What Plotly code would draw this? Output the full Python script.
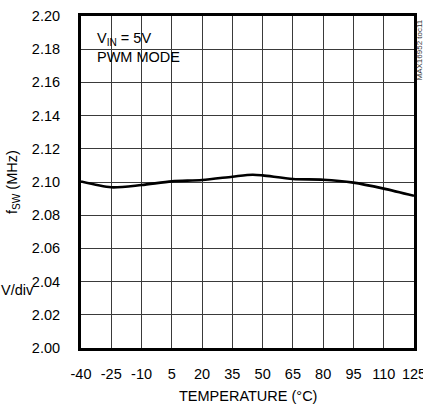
import plotly.graph_objects as go

# Data
temperature_c = [-40, -25, -10, 5, 20, 35, 45, 50, 65, 80, 95, 110, 125]
fsw_mhz = [2.1003, 2.0968, 2.0982, 2.1004, 2.1012, 2.1032, 2.1044, 2.1040, 2.1018, 2.1014, 2.0996, 2.0960, 2.0917]
x_ticks = [-40, -25, -10, 5, 20, 35, 50, 65, 80, 95, 110, 125]
y_ticks = [2.00, 2.02, 2.04, 2.06, 2.08, 2.10, 2.12, 2.14, 2.16, 2.18, 2.20]

W, H = 423, 405
L, R, T, B = 81, 414, 16, 348
FONT = "Liberation Sans Narrow, Arial Narrow, Liberation Sans, Arial, sans-serif"
FS = 14.5


def px(x):
    return (x - L) / (R - L)


def py(y):
    return (B - y) / (B - T)


fig = go.Figure()
fig.add_trace(go.Scatter(x=temperature_c, y=fsw_mhz, mode="lines",
                         line=dict(color="black", width=2.6, shape="spline", smoothing=0.8),
                         hoverinfo="skip", showlegend=False))

axis_common = dict(showgrid=True, gridcolor="#3a3a3a", gridwidth=1, zeroline=False,
                   showline=True, linecolor="black", linewidth=3, mirror=True,
                   ticks="", tickfont=dict(family=FONT, size=FS, color="black"),
                   ticklabeloverflow="allow")

fig.update_xaxes(range=[-40, 125], tickvals=x_ticks, ticktext=[str(v) for v in x_ticks],
                 ticklabelstandoff=11, automargin=False, **axis_common)
fig.update_yaxes(range=[2.00, 2.20], tickvals=y_ticks, ticktext=[f"{v:.2f}" for v in y_ticks],
                 ticklabelstandoff=15, automargin=False, **axis_common)

# white box behind the condition text
fig.add_shape(type="rect", xref="paper", yref="paper", x0=px(90), x1=px(183), y0=py(73), y1=py(23),
              fillcolor="white", line=dict(width=0), layer="between")

fig.add_annotation(xref="paper", yref="paper", x=px(95), y=py(47), xanchor="left", yanchor="middle",
                   text="V<sub>IN</sub> = 5V<br>PWM MODE", showarrow=False, align="left",
                   font=dict(family=FONT, size=FS, color="black"))

fig.add_annotation(xref="paper", yref="paper", x=px(13), y=py(182), xanchor="center", yanchor="middle",
                   text="f<sub>SW</sub> (MHz)", textangle=-90, showarrow=False,
                   font=dict(family=FONT, size=FS, color="black"))

fig.add_annotation(xref="paper", yref="paper", x=px((R + L) / 2), y=py(396), xanchor="center",
                   yanchor="middle", text="TEMPERATURE (°C)", showarrow=False,
                   font=dict(family=FONT, size=FS, color="black"))

fig.add_annotation(xref="paper", yref="paper", x=px(36), y=py(290), xanchor="right", yanchor="middle",
                   text="V/div", showarrow=False,
                   font=dict(family=FONT, size=FS, color="black"))

fig.add_annotation(xref="paper", yref="paper", x=px(418.5), y=py(50), xanchor="center", yanchor="middle",
                   text="MAX16952 toc11", textangle=-90, showarrow=False,
                   font=dict(family=FONT, size=8, color="#333333"))

fig.update_layout(width=W, height=H, margin=dict(l=L, r=W - R, t=T, b=H - B),
                  paper_bgcolor="white", plot_bgcolor="white", showlegend=False)

fig.write_html("out.html", config={"displayModeBar": False},
               post_script="document.body.style.margin='0';document.body.style.overflow='hidden';")
